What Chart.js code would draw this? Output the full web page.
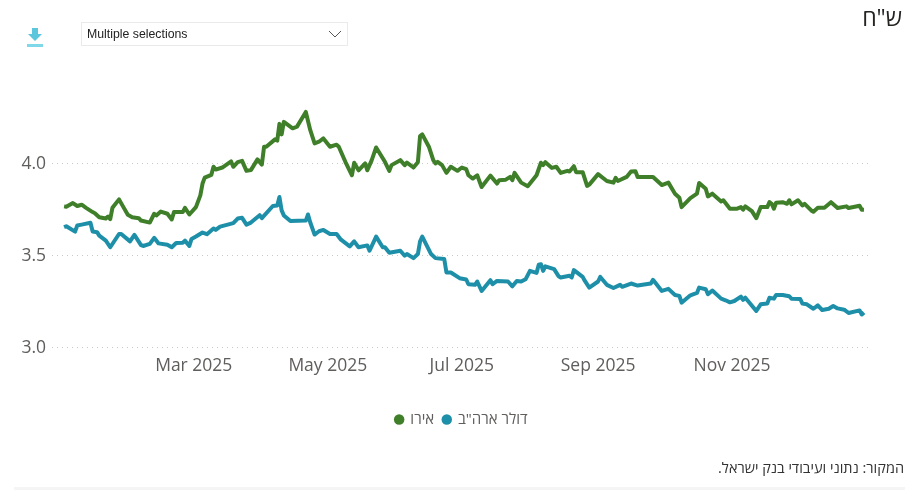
<!DOCTYPE html>
<html>
<head>
<meta charset="utf-8">
<script src="https://cdn.jsdelivr.net/npm/chart.js@4"></script>
<style>
    html, body { margin: 0; padding: 0; background: #fff; overflow: hidden; }
    #wrap { position: relative; width: 905px; height: 490px; font-family: "Open Sans", "DejaVu Sans", sans-serif; }
    #wrap canvas { position: absolute; left: 0; top: 0; }
    #unit { position: absolute; right: 3px; top: 1px; font-size: 23px; color: #252423; direction: rtl; }
    #source { position: absolute; right: 1px; top: 458px; font-size: 14.5px; color: #333; direction: rtl; }
    #footer { position: absolute; left: 14px; right: 0; top: 487px; height: 3px; background: #f5f5f5; }
    #slicer { position: absolute; left: 81px; top: 22px; width: 265px; height: 22px; border: 1px solid #eaeaea; font: 12.3px/23px "Liberation Sans", sans-serif; color: #222; text-indent: 5px; }
    #slicer svg { position: absolute; right: 5px; top: 7px; }
    #download { position: absolute; left: 26px; top: 28px; }
</style>
</head>
<body>
<div id="wrap">
    <canvas id="chart" width="905" height="490"></canvas>
    <svg id="download" width="18" height="20" viewBox="0 0 18 20">
        <path d="M6 0h6v6h4l-7 7-7-7h4z" fill="#5cc6dc"/>
        <rect x="1" y="16" width="16" height="3" fill="#7fd8e8"/>
    </svg>
    <div id="slicer">Multiple selections
        <svg width="14" height="8" viewBox="0 0 14 8"><path d="M1 1l6 6 6-6" fill="none" stroke="#555" stroke-width="1"/></svg>
    </div>
    <div id="unit">ש"ח</div>
    <div id="source">המקור: נתוני ועיבודי בנק ישראל.</div>
    <div id="footer"></div>
</div>
<script>
'use strict'

// x values are days since 1 Jan 2025
const tickDays = [59, 120, 181, 243, 304]
const tickLabels = ['Mar 2025', 'May 2025', 'Jul 2025', 'Sep 2025', 'Nov 2025']
const yTicks = [3.0, 3.5, 4.0]

const euroDays = [0,1,4,6,8,10,13,14,16,19,20,21,22,25,27,29,31,34,35,39,41,42,44,47,49,50,54,55,57,60,
    62,63,64,67,68,69,72,76,77,79,81,83,85,88,90,91,92,96,97,98,99,100,104,106,110,112,114,116,118,121,
    124,125,128,131,132,134,137,138,140,142,146,148,149,153,155,156,159,161,162,163,166,168,169,170,172,174,176,179,181,183,
    184,186,188,190,194,197,198,201,203,204,205,208,211,215,217,218,219,222,224,226,229,230,232,233,236,238,239,243,247,250,
    251,252,256,258,260,261,268,272,275,278,280,281,285,288,289,292,293,295,299,300,303,306,308,309,310,313,315,317,320,321,
    322,323,324,327,329,330,331,334,336,337,340,341,343,346,349,352,356,357,362,363,364]
const euroValues = [3.768,3.766,3.786,3.770,3.777,3.760,3.737,3.731,3.709,3.702,3.713,3.699,3.760,3.806,3.764,3.722,3.709,3.704,3.691,3.680,3.728,3.719,3.740,3.728,3.697,3.737,3.737,3.760,3.724,3.764,
    3.828,3.892,3.924,3.939,3.983,3.968,3.979,4.012,3.983,4.008,4.015,3.961,3.965,4.023,3.995,4.092,4.092,4.132,4.125,4.216,4.159,4.227,4.192,4.201,4.281,4.183,4.110,4.119,4.137,4.092,
    4.103,4.092,4.010,3.937,4.005,3.964,4.001,3.964,4.019,4.088,4.010,3.961,3.992,4.019,3.992,4.006,3.979,4.008,4.150,4.159,4.092,4.019,4.001,4.010,3.992,3.950,3.983,3.961,3.979,3.970,
    3.937,3.919,3.937,3.873,3.935,3.892,3.910,3.913,3.928,3.910,3.950,3.897,3.877,3.937,4.005,3.992,4.008,3.977,3.983,3.950,3.961,3.957,3.986,3.954,3.954,3.879,3.886,3.943,3.906,3.897,
    3.923,3.906,3.928,3.957,3.959,3.928,3.928,3.884,3.897,3.837,3.815,3.764,3.813,3.837,3.895,3.864,3.822,3.837,3.795,3.801,3.755,3.755,3.764,3.750,3.768,3.742,3.704,3.764,3.764,3.791,
    3.782,3.755,3.788,3.791,3.782,3.801,3.779,3.801,3.773,3.782,3.746,3.739,3.760,3.760,3.791,3.759,3.768,3.759,3.771,3.750,3.750]

const usdDays = [0,1,5,6,8,12,13,15,16,19,21,25,26,30,32,35,36,39,41,43,47,49,51,54,55,57,58,60,63,65,
    68,69,71,77,79,81,83,85,89,90,95,97,98,99,100,103,110,111,112,114,116,118,121,124,126,130,132,134,138,139,
    142,145,146,148,153,155,156,159,161,162,163,167,169,173,174,176,180,183,184,187,188,190,194,195,197,202,204,206,208,210,
    212,215,216,217,218,219,223,225,226,230,231,232,236,237,239,243,244,247,250,253,254,258,261,267,268,272,275,278,280,281,
    285,288,289,292,293,295,299,301,303,305,308,309,310,315,317,320,321,323,324,327,330,331,335,336,338,341,343,345,348,350,
    352,355,357,362,363,364]
const usdValues = [3.655,3.660,3.631,3.664,3.669,3.679,3.631,3.628,3.609,3.582,3.546,3.618,3.618,3.578,3.613,3.558,3.553,3.564,3.597,3.567,3.560,3.546,3.569,3.571,3.582,3.553,3.591,3.604,3.626,3.617,
    3.648,3.640,3.658,3.677,3.702,3.706,3.669,3.680,3.720,3.704,3.770,3.773,3.819,3.746,3.719,3.688,3.691,3.724,3.682,3.615,3.633,3.640,3.618,3.618,3.587,3.551,3.578,3.546,3.556,3.527,
    3.604,3.546,3.546,3.516,3.527,3.500,3.509,3.487,3.509,3.578,3.604,3.509,3.487,3.482,3.409,3.409,3.378,3.371,3.345,3.342,3.360,3.309,3.367,3.345,3.363,3.360,3.334,3.363,3.360,3.372,
    3.418,3.407,3.451,3.454,3.418,3.442,3.427,3.389,3.382,3.391,3.382,3.422,3.385,3.363,3.327,3.360,3.385,3.342,3.325,3.342,3.331,3.349,3.338,3.349,3.369,3.309,3.320,3.287,3.282,3.245,
    3.285,3.298,3.327,3.318,3.291,3.311,3.267,3.258,3.247,3.254,3.278,3.260,3.272,3.200,3.236,3.241,3.272,3.267,3.287,3.287,3.280,3.267,3.265,3.240,3.236,3.212,3.230,3.205,3.212,3.227,
    3.214,3.207,3.189,3.203,3.181,3.192]

const seriesNames = ['אירו', 'דולר ארה"ב']
const zip = (xs, ys) => xs.map((x, i) => ({x: x, y: ys[i]}))

const makeDataset = (label, points, color) => ({
    label: label,
    data: points,
    borderColor: color,
    backgroundColor: color,
    borderWidth: 4,
    borderJoinStyle: 'round',
    pointRadius: 0,
    tension: 0
})

const tickFont = {family: '"Open Sans", "DejaVu Sans", sans-serif', size: 17.5}

new Chart(document.getElementById('chart'), {
    type: 'line',
    data: {
        datasets: [
            makeDataset(seriesNames[0], zip(euroDays, euroValues), '#3f7f2a'),
            makeDataset(seriesNames[1], zip(usdDays, usdValues), '#1e8fa8')
        ]
    },
    options: {
        responsive: false,
        animation: false,
        layout: {padding: {left: 20, right: 34, top: 90, bottom: 53}},
        plugins: {
            title: {display: false},
            tooltip: {enabled: false},
            legend: {
                position: 'bottom',
                fullSize: false,
                labels: {
                    usePointStyle: true,
                    pointStyle: 'circle',
                    boxWidth: 7.4,
                    boxHeight: 7.4,
                    padding: 9,
                    color: '#605e5c',
                    font: {family: tickFont.family, size: 15},
                    generateLabels: (chart) => Chart.defaults.plugins.legend.labels.generateLabels(chart)
                        .map(item => ({...item, lineWidth: 0}))
                }
            }
        },
        scales: {
            x: {
                type: 'linear',
                min: -5.5,
                max: 367.2,
                grid: {display: false},
                border: {display: false},
                afterBuildTicks: (scale) => { scale.ticks = tickDays.map(v => ({value: v})) },
                afterFit: (scale) => { scale.height = 55.2 },
                ticks: {
                    autoSkip: false,
                    maxRotation: 0,
                    padding: 0,
                    color: '#605e5c',
                    font: tickFont,
                    callback: (value) => tickLabels[tickDays.indexOf(value)]
                }
            },
            y: {
                min: 3,
                max: 4.4,
                border: {display: false, dash: [1, 4]},
                grid: {color: '#c8c8c8', lineWidth: 1, drawTicks: false},
                afterBuildTicks: (scale) => { scale.ticks = yTicks.map(v => ({value: v})) },
                afterFit: (scale) => { scale.width = 32 },
                ticks: {
                    autoSkip: false,
                    padding: 6,
                    color: '#605e5c',
                    font: tickFont,
                    callback: (value) => value.toFixed(1)
                }
            }
        }
    }
})
</script>
</body>
</html>
